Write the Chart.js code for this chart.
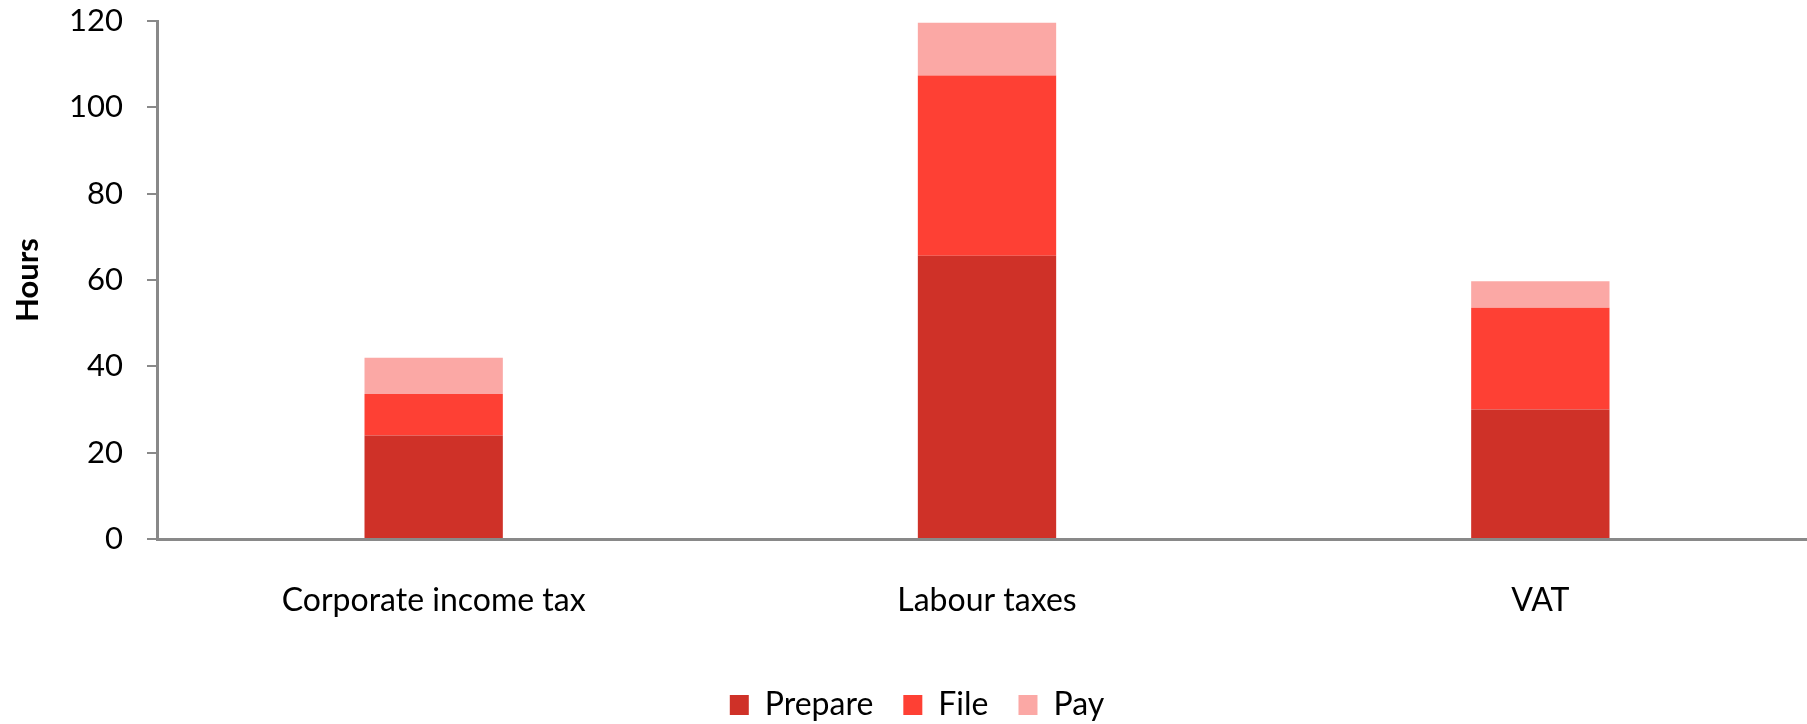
<!DOCTYPE html>
<html>
<head>
<meta charset="utf-8">
<script src="https://cdn.jsdelivr.net/npm/chart.js@4"></script>
<style>
  html, body { margin: 0; padding: 0; background: #fff; overflow: hidden; }
  #wrap { width: 1807px; height: 724px; overflow: hidden; }
</style>
</head>
<body>
<div id="wrap">
  <canvas id="taxChart" width="1834" height="731"></canvas>
</div>
<script>
var taxTypes = ["Corporate income tax", "Labour taxes", "VAT"];
var prepareHours = [24, 65.6, 30];
var fileHours = [9.6, 41.8, 23.6];
var payHours = [8.4, 12.2, 6.1];
var yTicks = [0, 20, 40, 60, 80, 100, 120];

var axisGrey = "#898989";
var fontName = "Lato, 'Open Sans', sans-serif";

new Chart("taxChart", {
    type: "bar",
    data: {
        labels: taxTypes,
        datasets: [{
            label: "Prepare",
            data: prepareHours,
            backgroundColor: "#cf3128"
        }, {
            label: "File",
            data: fileHours,
            backgroundColor: "#fe4034"
        }, {
            label: "Pay",
            data: payHours,
            backgroundColor: "#fba8a5"
        }]
    },

    options: {
        responsive: false,
        animation: false,
        devicePixelRatio: 1,
        categoryPercentage: 1,
        barPercentage: 0.25,
        layout: {
            padding: { top: 21, right: 17, left: 17, bottom: 0 }
        },
        plugins: {
            legend: {
                position: "bottom",
                labels: {
                    boxWidth: 19,
                    boxHeight: 20,
                    padding: 30,
                    color: "#000",
                    font: { family: fontName, size: 32 }
                }
            },
            tooltip: { enabled: false }
        },
        scales: {
            x: {
                stacked: true,
                afterFit: function (scale) {
                    scale.height = 120;
                },
                grid: {
                    display: false,
                    drawTicks: false
                },
                border: {
                    color: axisGrey,
                    width: 3
                },
                ticks: {
                    padding: 42,
                    color: "#000",
                    font: { family: fontName, size: 32 }
                }
            },
            y: {
                stacked: true,
                min: 0,
                max: 120,
                afterFit: function (scale) {
                    // fixed axis width; drop the label overhang so the plot starts right under the top padding
                    scale.width = 140;
                    scale.paddingTop = 0;
                    scale.paddingBottom = 0;
                },
                afterBuildTicks: function (scale) {
                    scale.ticks = yTicks.map(function (v) { return { value: v }; });
                },
                grid: {
                    drawOnChartArea: false,
                    color: axisGrey,
                    lineWidth: 2,
                    tickLength: 10
                },
                border: {
                    color: axisGrey,
                    width: 3
                },
                ticks: {
                    padding: 24,
                    color: "#000",
                    font: { family: fontName, size: 31 }
                },
                title: {
                    display: true,
                    text: "Hours",
                    color: "#000",
                    padding: { top: -8, bottom: 0 },
                    font: { family: fontName, size: 31, weight: "bold" }
                }
            }
        }
    }
});
</script>
</body>
</html>
